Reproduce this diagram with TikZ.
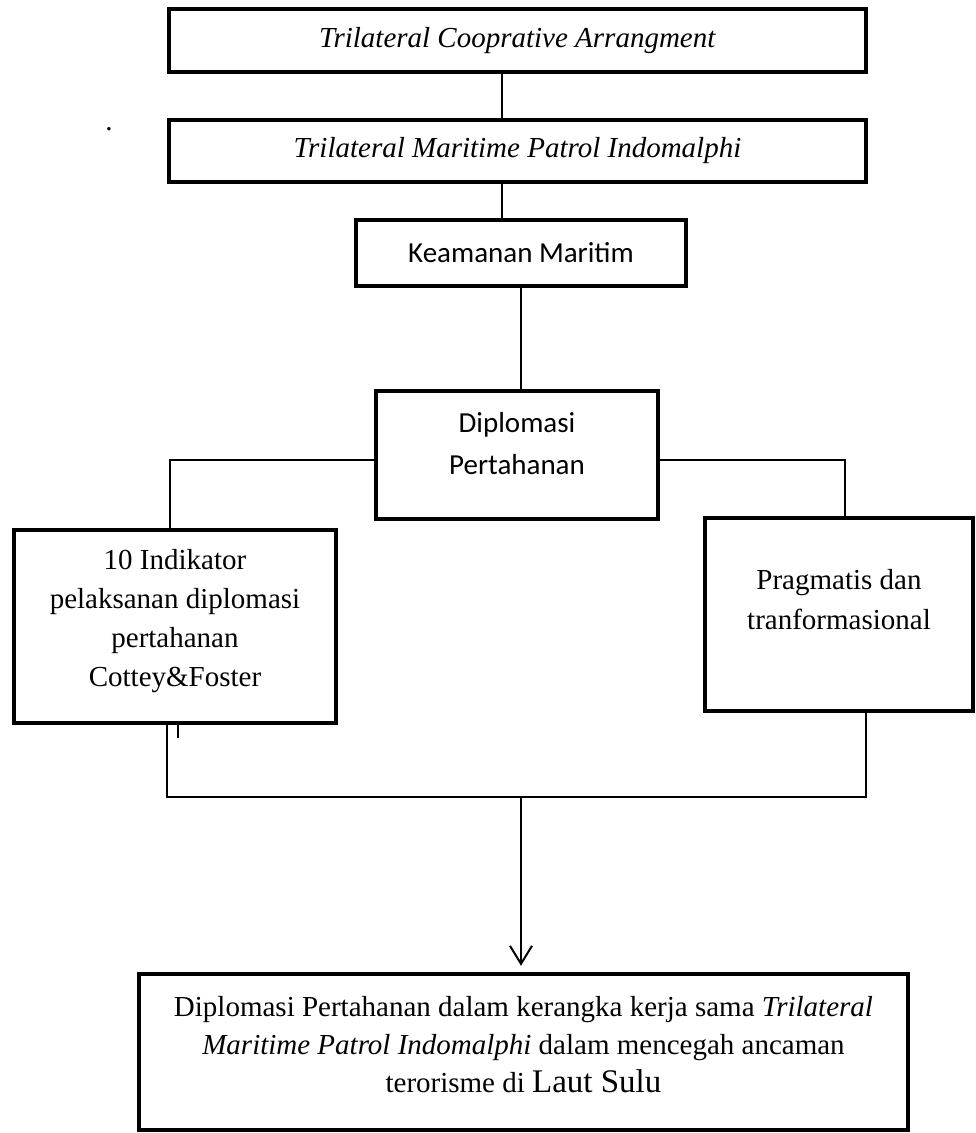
\documentclass[tikz,border=0pt]{standalone}
\usepackage{fontspec}
\setmainfont{Liberation Serif}
\newfontfamily\calibri{Carlito}
\usetikzlibrary{arrows.meta,positioning}

\begin{document}
\begin{tikzpicture}[x=1pt, y=-1pt,
  box/.style={draw, line width=4.5pt, inner sep=0pt, align=center},
  teks/.style={font=\fontsize{29}{40}\selectfont, align=center, inner sep=0pt},
  teksc/.style={font=\calibri\fontsize{29}{42}\selectfont, align=center, inner sep=0pt},
  conn/.style={line width=1.5pt}]
\useasboundingbox (0,0) rectangle (976,1133);
\node[box, teks, minimum width=697, minimum height=63] (coop) at (517.5,40.5) {\textit{Trilateral Cooprative Arrangment}};
\node[teks] (titik) at (109,129) {.};
\node[box, teks, minimum width=697, minimum height=62] (patrol) at (517.5,151) {\textit{Trilateral Maritime Patrol Indomalphi}};
\node[box, teksc, minimum width=330, minimum height=66] (keamanan) at (521,253) {Keamanan Maritim};
\node[box, minimum width=282, minimum height=128] (diplo) at (517,455) {};
\node[teksc] (diplotxt) at (517,444) {Diplomasi\\Pertahanan};
\node[box, minimum width=322, minimum height=193] (indik) at (175,626.5) {};
\node[teks, font=\fontsize{29}{39}\selectfont] (indiktxt) at (175,621.5) {10 Indikator\\pelaksanan diplomasi\\pertahanan\\Cottey\&Foster};
\node[box, minimum width=268, minimum height=193] (prag) at (839,614.5) {};
\node[teks] (pragtxt) at (839,600) {Pragmatis dan\\tranformasional};
\node[box, minimum width=769, minimum height=156] (hasil) at (523.5,1052) {};
\node[teks, font=\fontsize{29}{38}\selectfont] (hasiltxt) at (523.5,1045) {Diplomasi Pertahanan dalam kerangka kerja sama \textit{Trilateral}\\\textit{Maritime Patrol Indomalphi} dalam mencegah ancaman\\terorisme di {\fontsize{33}{40}\selectfont Laut Sulu}};
\coordinate (merge) at (521,797);

\draw[conn] ([xshift=-15.5pt]coop.south) -- ([xshift=-15.5pt]patrol.north);
\draw[conn] ([xshift=-15.5pt]patrol.south) -- ([xshift=-19pt]keamanan.north);
\draw[conn] (keamanan.south) -- ([xshift=4pt]diplo.north);
\draw[conn] ([yshift=-5pt]diplo.west) -| ([xshift=-5pt]indik.north);
\draw[conn] ([yshift=-5pt]diplo.east) -| ([xshift=6pt]prag.north);
\draw[conn] ([xshift=3pt]indik.south) -- ++(0,13);
\draw[conn] ([xshift=-8pt]indik.south) |- (merge);
\draw[conn] ([xshift=27pt]prag.south) |- (merge);
\draw[line width=2pt, -{Straight Barb[length=18pt,width=22pt,line width=2pt]}] (merge) -- ([yshift=6pt]merge |- hasil.north);
\end{tikzpicture}
\end{document}
